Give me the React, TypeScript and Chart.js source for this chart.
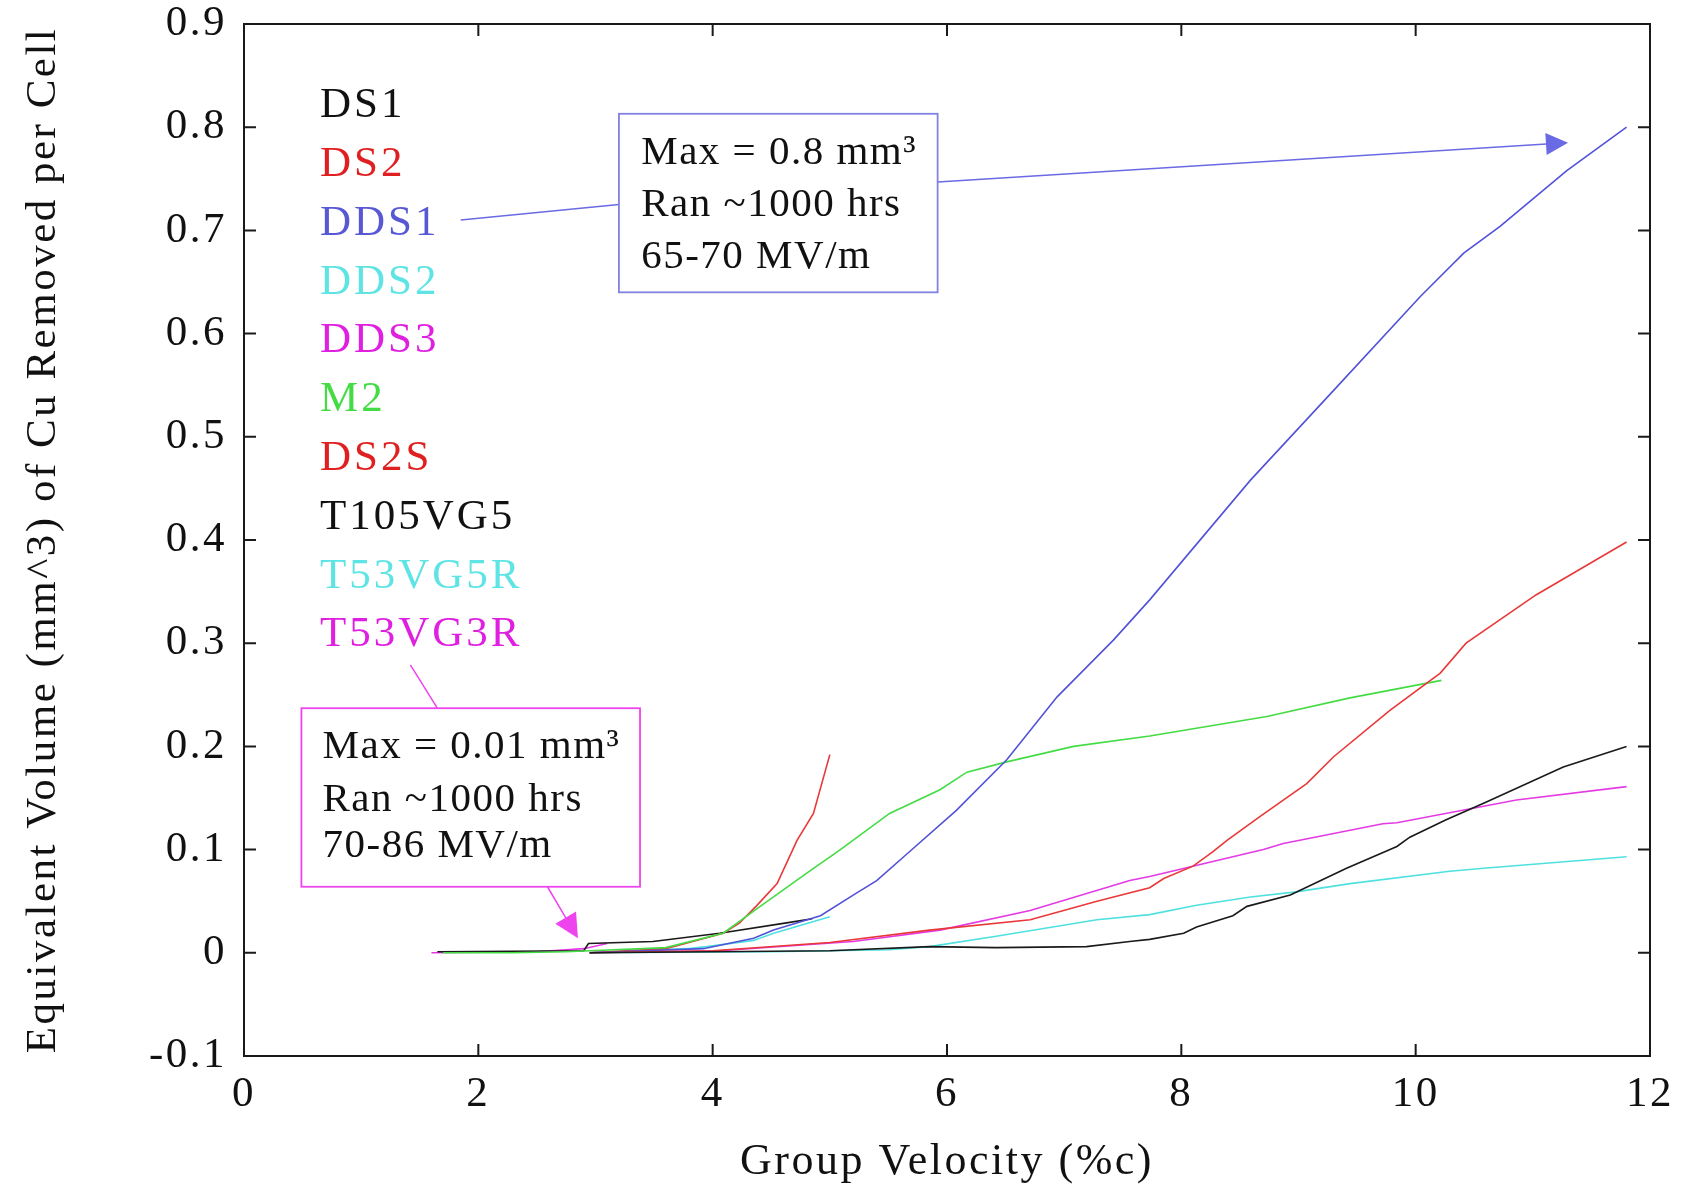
import React, { useEffect, useRef } from "react";
import { Chart, registerables } from "chart.js";

Chart.register(...registerables);

// ---------- axis ticks ----------
const xTickValues = [0, 2, 4, 6, 8, 10, 12];
const yTickValues = [-0.1, 0, 0.1, 0.2, 0.3, 0.4, 0.5, 0.6, 0.7, 0.8, 0.9];

// ---------- series names & colours ----------
const seriesNames = ["DS1", "DS2", "DDS1", "DDS2", "DDS3", "M2", "DS2S", "T105VG5", "T53VG5R", "T53VG3R"];
const lineColors = ["#1a1a1a", "#e8383a", "#5252d8", "#4fe0e0", "#e43ae4", "#44dc44", "#e8383a", "#1a1a1a", "#4fe0e0", "#e43ae4"];
const textColors = ["#111111", "#e02020", "#5858d4", "#5ee4e4", "#e020e0", "#44dc44", "#e02020", "#111111", "#5ee4e4", "#e020e0"];

// ---------- data (group velocity %c, volume mm^3) ----------
const ds1X = [2.95, 4.0, 5.0, 5.85, 6.42, 7.19, 7.56, 7.73, 8.02, 8.13, 8.44, 8.56, 8.93, 9.41, 9.84, 9.95, 10.26, 10.58, 11.26, 11.8];
const ds1Y = [0.0, 0.001, 0.002, 0.006, 0.005, 0.006, 0.011, 0.013, 0.019, 0.025, 0.036, 0.045, 0.056, 0.082, 0.103, 0.112, 0.129, 0.145, 0.18, 0.2];

const ds2X = [2.95, 4.0, 5.0, 5.85, 6.71, 7.28, 7.73, 7.85, 8.1, 8.27, 8.39, 8.67, 9.07, 9.3, 9.78, 10.21, 10.43, 11.03, 11.8];
const ds2Y = [0.0, 0.002, 0.01, 0.022, 0.032, 0.05, 0.063, 0.072, 0.084, 0.098, 0.109, 0.132, 0.164, 0.19, 0.235, 0.271, 0.3, 0.347, 0.398];

const dds1X = [2.95, 3.92, 4.35, 4.52, 4.92, 5.23, 5.4, 5.66, 6.08, 6.51, 6.94, 7.42, 7.73, 8.59, 9.3, 10.04, 10.41, 10.72, 11.29, 11.8];
const dds1Y = [0.0, 0.004, 0.014, 0.022, 0.036, 0.058, 0.07, 0.096, 0.138, 0.187, 0.248, 0.303, 0.342, 0.458, 0.545, 0.636, 0.678, 0.704, 0.758, 0.8];

const dds2X = [2.95, 4.5, 5.5, 5.85, 6.42, 7.28, 7.73, 8.13, 8.59, 8.98, 9.44, 10.29, 10.58, 11.8];
const dds2Y = [0.0, 0.001, 0.003, 0.006, 0.016, 0.032, 0.037, 0.046, 0.054, 0.059, 0.067, 0.079, 0.082, 0.093];

const dds3X = [2.95, 4.06, 5.2, 5.94, 6.71, 7.56, 7.73, 8.7, 8.87, 9.72, 9.84, 10.86, 11.8];
const dds3Y = [0.0, 0.002, 0.011, 0.022, 0.041, 0.07, 0.074, 0.1, 0.106, 0.125, 0.126, 0.148, 0.161];

const m2X = [1.7, 2.3, 2.75, 3.6, 4.09, 4.37, 4.8, 5.09, 5.51, 5.94, 6.17, 6.51, 7.08, 7.73, 8.73, 9.44, 10.22];
const m2Y = [0.0, 0.0, 0.001, 0.005, 0.019, 0.042, 0.077, 0.1, 0.135, 0.158, 0.175, 0.185, 0.2, 0.21, 0.229, 0.247, 0.264];

const ds2sX = [2.95, 3.6, 4.09, 4.23, 4.37, 4.55, 4.72, 4.86, 5.0];
const ds2sY = [0.0, 0.004, 0.019, 0.029, 0.045, 0.067, 0.109, 0.135, 0.192];

const t105vg5X = [1.65, 2.9, 2.94, 3.49, 4.06, 4.63, 4.85];
const t105vg5Y = [0.001, 0.002, 0.009, 0.011, 0.019, 0.029, 0.033];

const t53vg5rX = [2.95, 3.78, 3.95, 4.35, 4.52, 5.0];
const t53vg5rY = [0.0, 0.004, 0.006, 0.012, 0.019, 0.035];

const t53vg3rX = [1.6, 2.5, 2.9, 3.1];
const t53vg3rY = [0.0, 0.001, 0.004, 0.009];

const seriesX = [ds1X, ds2X, dds1X, dds2X, dds3X, m2X, ds2sX, t105vg5X, t53vg5rX, t53vg3rX];
const seriesY = [ds1Y, ds2Y, dds1Y, dds2Y, dds3Y, m2Y, ds2sY, t105vg5Y, t53vg5rY, t53vg3rY];

// ---------- annotation text ----------
const noteHigh = ["Max = 0.8 mm³", "Ran ~1000 hrs", "65-70 MV/m"];
const noteLow = ["Max = 0.01 mm³", "Ran ~1000 hrs", "70-86 MV/m"];

const FONT = "'Liberation Serif', 'Times New Roman', serif";

const spacingPlugin = {
  id: "spacing",
  beforeDraw(chart: any) {
    (chart.ctx as any).letterSpacing = "2.5px";
  },
  afterDraw(chart: any) {
    (chart.ctx as any).letterSpacing = "0px";
  },
};

const overlayPlugin = {
  id: "overlay",
  afterDatasetsDraw(chart: any) {
    const { ctx, chartArea: a, scales } = chart;
    const xs = scales.x;
    const ys = scales.y;
    const px = (v: number) => xs.getPixelForValue(v);
    const py = (v: number) => ys.getPixelForValue(v);
    ctx.save();

    // frame
    ctx.strokeStyle = "#1a1a1a";
    ctx.lineWidth = 2;
    ctx.strokeRect(a.left, a.top, a.width, a.height);

    // inward ticks on all four sides
    const tl = 12;
    ctx.beginPath();
    xTickValues.forEach((v) => {
      const x = px(v);
      ctx.moveTo(x, a.bottom);
      ctx.lineTo(x, a.bottom - tl);
      ctx.moveTo(x, a.top);
      ctx.lineTo(x, a.top + tl);
    });
    yTickValues.forEach((v) => {
      const y = py(v);
      ctx.moveTo(a.left, y);
      ctx.lineTo(a.left + tl, y);
      ctx.moveTo(a.right, y);
      ctx.lineTo(a.right - tl, y);
    });
    ctx.stroke();

    // legend as coloured text
    (ctx as any).letterSpacing = "3px";
    ctx.font = `43px ${FONT}`;
    ctx.textBaseline = "middle";
    ctx.textAlign = "left";
    seriesNames.forEach((name, i) => {
      ctx.fillStyle = textColors[i];
      ctx.fillText(name, a.left + 76, a.top + 82 + i * 58.8);
    });

    const arrow = (x1: number, y1: number, x2: number, y2: number, color: string, head: number) => {
      const ang = Math.atan2(y2 - y1, x2 - x1);
      ctx.strokeStyle = color;
      ctx.fillStyle = color;
      ctx.lineWidth = 1.5;
      ctx.beginPath();
      ctx.moveTo(x1, y1);
      ctx.lineTo(x2 - head * 0.8 * Math.cos(ang), y2 - head * 0.8 * Math.sin(ang));
      ctx.stroke();
      ctx.beginPath();
      ctx.moveTo(x2, y2);
      ctx.lineTo(x2 - head * Math.cos(ang) + (head / 2) * Math.sin(ang), y2 - head * Math.sin(ang) - (head / 2) * Math.cos(ang));
      ctx.lineTo(x2 - head * Math.cos(ang) - (head / 2) * Math.sin(ang), y2 - head * Math.sin(ang) + (head / 2) * Math.cos(ang));
      ctx.closePath();
      ctx.fill();
    };
    const seg = (x1: number, y1: number, x2: number, y2: number, color: string) => {
      ctx.strokeStyle = color;
      ctx.lineWidth = 1.5;
      ctx.beginPath();
      ctx.moveTo(x1, y1);
      ctx.lineTo(x2, y2);
      ctx.stroke();
    };
    const box = (x1: number, y1: number, x2: number, y2: number, color: string, lines: string[], tx: number, ty: number[]) => {
      ctx.fillStyle = "#ffffff";
      ctx.fillRect(x1, y1, x2 - x1, y2 - y1);
      ctx.strokeStyle = color;
      ctx.lineWidth = 1.8;
      ctx.strokeRect(x1, y1, x2 - x1, y2 - y1);
      ctx.fillStyle = "#111111";
      (ctx as any).letterSpacing = "1.5px";
      ctx.font = `41px ${FONT}`;
      ctx.textBaseline = "middle";
      ctx.textAlign = "left";
      lines.forEach((t, i) => ctx.fillText(t, tx, ty[i]));
    };

    // blue annotation (DDS1)
    const blue = "#6a6ae4";
    seg(px(1.85), py(0.71), px(3.2), py(0.725), blue);
    arrow(px(5.92), py(0.747), px(11.3), py(0.785), blue, 22);
    box(px(3.2), py(0.813), px(5.92), py(0.64), "#8282e0", noteHigh, px(3.39), [py(0.775), py(0.724), py(0.674)]);

    // magenta annotation (T53VG3R)
    const mag = "#ee44ee";
    seg(px(1.42), py(0.279), px(1.65), py(0.237), mag);
    arrow(px(2.59), py(0.064), px(2.85), py(0.014), mag, 24);
    box(px(0.49), py(0.237), px(3.38), py(0.064), mag, noteLow, px(0.67), [py(0.199), py(0.148), py(0.103)]);

    ctx.restore();
  },
};

export default function App() {
  const canvasRef = useRef<HTMLCanvasElement | null>(null);

  useEffect(() => {
    document.body.style.margin = "0";
    const canvas = canvasRef.current;
    if (!canvas) return;

    const datasets = seriesNames.map((name, i) => ({
      label: name,
      data: seriesX[i].map((x, j) => ({ x, y: seriesY[i][j] })),
      showLine: true,
      borderColor: lineColors[i],
      backgroundColor: lineColors[i],
      borderWidth: 1.6,
      pointRadius: 0,
      tension: 0,
      fill: false,
    }));

    const chart = new Chart(canvas, {
      type: "scatter",
      data: { datasets },
      options: {
        animation: false,
        responsive: false,
        devicePixelRatio: 1,
        layout: { padding: { top: 24, right: 32, left: 0, bottom: 0 } },
        plugins: {
          legend: { display: false },
          tooltip: { enabled: false },
        },
        scales: {
          x: {
            type: "linear",
            min: 0,
            max: 12,
            grid: { display: false, drawTicks: false },
            border: { display: false },
            afterBuildTicks: (s: any) => {
              s.ticks = xTickValues.map((v) => ({ value: v }));
            },
            afterFit: (s: any) => {
              s.height = 134;
              s.paddingLeft = 0;
              s.paddingRight = 0;
            },
            ticks: {
              color: "#111",
              font: { family: FONT, size: 43 },
              padding: 13,
              maxRotation: 0,
              callback: (v: any) => String(v),
            },
            title: {
              display: true,
              text: "Group Velocity (%c)",
              color: "#111",
              font: { family: FONT, size: 44 },
              padding: { top: 0, bottom: 1 },
            },
          },
          y: {
            type: "linear",
            min: -0.1,
            max: 0.9,
            grid: { display: false, drawTicks: false },
            border: { display: false },
            afterBuildTicks: (s: any) => {
              s.ticks = yTickValues.map((v) => ({ value: v }));
            },
            afterFit: (s: any) => {
              s.width = 244;
              s.paddingTop = 0;
              s.paddingBottom = 0;
            },
            ticks: {
              color: "#111",
              font: { family: FONT, size: 43 },
              padding: 17,
              callback: (v: any) => String(Math.round(Number(v) * 10) / 10),
            },
            title: {
              display: true,
              text: "Equivalent Volume (mm^3) of Cu Removed per Cell",
              color: "#111",
              font: { family: FONT, size: 43 },
              padding: { top: 18, bottom: 0 },
            },
          },
        },
      },
      plugins: [spacingPlugin, overlayPlugin],
    } as any);

    return () => chart.destroy();
  }, []);

  return (
    <div style={{ width: 1682, height: 1190, background: "#fff" }}>
      <canvas ref={canvasRef} width={1682} height={1190} style={{ display: "block" }} />
    </div>
  );
}
